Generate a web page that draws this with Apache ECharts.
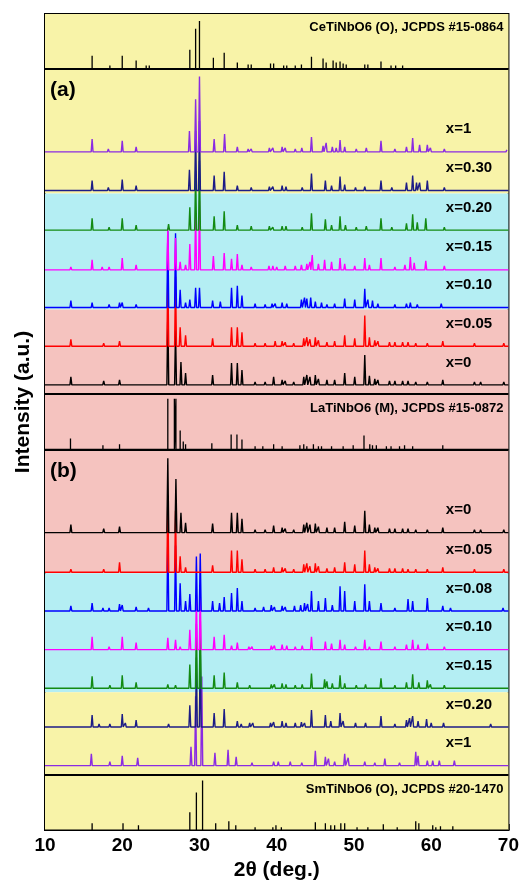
<!DOCTYPE html>
<html><head><meta charset="utf-8">
<script src="https://cdn.jsdelivr.net/npm/echarts@6/dist/echarts.min.js"></script>
<style>html,body{margin:0;padding:0;background:#fff;}#c{width:522px;height:886px;}</style>
</head><body><div id="c"></div>
<script>
// ---- data: [2theta, relative intensity] ----
const ceRef = [[16.1,13],[18.4,3],[20.0,13],[21.8,8],[23.1,3],[23.5,3],[26.1,1],[28.75,19],[29.5,40],[30.0,48],[31.8,11],[33.2,16],[34.9,6],[36.3,4],[36.7,4],[39.2,5],[39.6,5],[40.9,3],[41.3,3],[42.4,3],[43.2,4],[44.5,12],[46.0,10],[46.4,6],[47.3,8],[47.7,6],[48.2,7],[48.6,5],[49.0,4],[50.1,2],[51.4,4],[51.8,4],[53.5,7],[54.8,3],[55.4,3],[56.3,3]];
const laRef = [[13.3,11],[17.5,4],[19.65,5],[25.9,51],[26.75,51],[26.95,51],[27.5,19],[27.9,8],[28.2,5],[31.6,6],[34.1,15],[34.85,15],[35.5,10],[37.2,3],[38.2,3],[39.6,5],[40.7,3],[41.5,2],[43.0,4],[43.5,5],[43.9,3],[44.75,5],[45.4,3],[45.8,3],[47.1,3],[48.6,3],[49.9,4],[51.3,14],[52.05,5],[52.4,4],[52.9,4],[54.2,3],[54.8,3],[55.9,3],[56.55,4],[57.6,3],[58.9,2],[61.5,4]];
const smRef = [[16.1,7],[18.5,2],[20.1,7],[22.1,5],[28.75,18],[29.6,38],[30.4,50],[32.1,7],[33.8,9],[34.7,5],[36.5,2],[37.2,3],[39.5,3],[39.9,5],[40.6,3],[42.0,2],[43.3,2],[45.0,8],[46.3,7],[47.0,5],[47.5,5],[48.3,7],[48.8,7],[50.4,3],[51.8,3],[53.8,6],[55.6,3],[58.0,9],[58.4,7],[60.2,5],[60.6,3],[61.2,4],[62.8,4]];

// panel (a)
const a_x1   = [[16.1,13],[18.2,3],[20.0,11],[21.8,5],[23.3,2],[26.0,2],[28.7,21],[29.5,53],[30.0,76],[31.9,13],[33.25,18],[34.9,5],[36.3,3],[36.7,3],[39.05,4],[39.5,4],[40.7,5],[41.1,4],[42.4,3],[43.25,4],[44.5,15],[46.0,6],[46.4,9],[47.2,5],[47.7,4],[48.2,12],[48.8,5],[50.3,3],[51.6,4],[53.5,11],[55.3,3],[56.8,5],[57.6,14],[58.5,7],[59.5,7],[59.9,4],[61.7,3],[63.0,2],[65.6,2],[69.8,2]];
const a_x030 = [[13.4,1],[16.1,10],[18.2,3],[20.0,11],[21.8,5],[26.0,2],[28.7,21],[29.5,60],[30.0,70],[31.9,15],[33.2,19],[34.9,5],[36.7,3],[39.05,4],[39.5,4],[40.7,5],[41.2,4],[43.3,3],[44.5,17],[46.3,10],[47.1,5],[48.2,14],[48.8,6],[50.2,3],[51.4,4],[53.5,10],[54.9,3],[56.8,8],[57.6,15],[58.1,8],[58.5,8],[59.5,10],[61.7,3],[63.0,2]];
const a_x020 = [[13.4,1],[16.1,12],[18.3,3],[20.0,12],[21.8,5],[26.0,6],[28.75,23],[29.5,60],[30.0,70],[31.9,14],[33.2,19],[34.9,5],[36.7,4],[39.05,4],[39.5,3],[40.7,4],[41.2,4],[43.3,3],[44.5,17],[46.3,11],[47.1,5],[48.2,14],[48.9,5],[50.3,3],[51.6,4],[53.5,12],[54.9,3],[56.8,7],[57.6,16],[58.2,8],[59.3,12],[61.7,3]];
const a_x015 = [[13.35,3],[16.1,10],[17.4,3],[18.3,3],[20.0,12],[21.8,5],[25.9,42],[26.9,32],[27.5,8],[28.2,5],[28.75,26],[29.5,60],[30.0,70],[31.8,14],[33.2,17],[34.15,11],[34.9,16],[35.5,5],[36.7,3],[39.0,4],[39.5,4],[40.0,3],[41.1,4],[42.4,4],[43.2,5],[43.9,6],[44.3,8],[44.6,15],[45.4,6],[46.2,10],[47.1,8],[48.2,12],[48.8,6],[50.1,4],[51.4,12],[52.0,5],[53.5,12],[55.3,3],[56.6,5],[57.3,13],[57.8,7],[59.3,9],[61.7,4],[65.3,2]];
const a_x010 = [[13.35,7],[16.1,5],[17.6,2],[18.3,3],[19.65,5],[20.0,5],[21.8,3],[25.9,77],[26.9,75],[27.5,18],[28.2,5],[28.75,8],[29.5,20],[30.0,20],[31.7,7],[32.7,6],[34.15,20],[34.9,22],[35.5,12],[37.2,4],[38.5,3],[39.4,4],[39.8,4],[40.7,5],[41.3,4],[43.2,8],[43.6,10],[43.9,9],[44.4,10],[45.0,6],[45.8,5],[46.5,3],[47.5,4],[48.8,9],[50.1,8],[51.4,19],[51.8,8],[52.4,7],[53.1,4],[55.3,3],[56.8,4],[57.3,5],[58.2,3],[61.3,4],[65.3,2],[69.3,2]];
const a_x005 = [[13.35,7],[17.6,3],[19.65,5],[25.9,75],[26.9,70],[27.5,19],[28.2,11],[31.7,8],[34.15,19],[34.9,19],[35.5,14],[37.2,3],[38.5,3],[39.8,5],[40.7,5],[41.1,4],[42.2,3],[43.5,8],[43.9,9],[44.3,7],[45.0,9],[45.4,6],[46.5,4],[47.5,5],[48.8,11],[50.1,8],[51.4,31],[52.0,9],[52.7,6],[53.1,5],[54.6,4],[55.3,4],[56.3,4],[57.0,4],[58.0,3],[59.5,3],[61.5,5],[63.8,2],[65.6,3],[66.4,2],[69.4,3]];
const a_x0   = [[13.35,8],[17.6,4],[19.65,5],[25.9,75],[26.9,55],[27.6,23],[28.2,12],[31.7,10],[34.15,22],[34.9,22],[35.5,15],[37.2,3],[38.5,3],[39.6,8],[40.7,5],[41.1,4],[42.2,3],[43.5,8],[43.9,10],[44.3,8],[45.0,10],[45.4,6],[46.5,5],[47.5,5],[48.8,12],[50.1,8],[51.4,30],[52.0,9],[52.7,6],[53.1,5],[54.6,4],[55.3,4],[56.3,4],[57.0,4],[58.0,3],[59.5,3],[61.5,5],[63.8,2],[65.6,3],[66.4,3],[69.4,3]];

// panel (b)
const b_x0   = [[13.35,8],[17.6,4],[19.65,6],[21.5,2],[23.0,2],[25.9,75],[26.95,54],[27.6,20],[28.2,10],[31.7,9],[34.15,20],[34.9,20],[35.5,14],[37.2,3],[38.5,3],[39.6,7],[40.7,5],[41.1,4],[42.2,3],[43.5,8],[43.9,10],[44.3,8],[45.0,9],[45.4,6],[46.5,5],[47.5,5],[48.8,11],[50.1,7],[51.4,22],[52.0,8],[52.7,5],[53.1,5],[54.6,4],[55.3,4],[56.3,4],[57.0,4],[58.0,3],[59.5,3],[61.5,5],[63.8,2],[65.6,3],[66.4,3],[69.4,3]];
const b_x005 = [[13.35,3],[15.0,2],[17.6,3],[19.65,10],[25.9,78],[26.9,62],[27.5,16],[28.2,5],[31.7,7],[34.15,22],[34.9,22],[35.5,13],[37.2,3],[38.5,3],[39.6,5],[40.7,5],[41.1,4],[42.2,3],[43.5,8],[43.9,9],[44.3,6],[45.0,9],[45.4,6],[46.5,4],[47.5,5],[48.8,10],[50.1,8],[51.4,22],[52.0,8],[52.7,5],[53.1,4],[54.6,4],[55.3,4],[56.3,4],[57.0,3],[58.0,3],[59.5,3],[61.5,5],[63.8,2],[65.6,3],[67.0,2],[69.4,3]];
const b_x008 = [[13.35,5],[16.1,8],[17.5,3],[18.3,3],[19.65,7],[20.0,6],[21.8,4],[23.4,3],[25.9,76],[26.9,66],[27.5,28],[28.2,10],[28.75,17],[29.6,55],[30.1,58],[31.7,10],[32.6,8],[33.2,14],[34.15,18],[34.9,23],[35.5,10],[37.2,3],[38.3,4],[39.3,6],[39.7,4],[40.7,5],[41.1,4],[42.3,5],[43.1,6],[43.6,8],[44.0,7],[44.5,20],[45.4,10],[46.3,13],[47.2,6],[48.2,25],[48.8,20],[50.1,10],[51.4,27],[52.0,10],[53.5,8],[55.3,3],[57.0,12],[57.6,10],[59.5,13],[61.5,5],[62.5,3],[65.5,2],[69.3,3]];
const b_x010 = [[13.4,2],[16.1,13],[17.5,2],[18.3,3],[20.0,13],[21.8,7],[25.9,12],[26.9,10],[27.5,3],[28.75,20],[29.6,55],[30.1,58],[31.9,13],[33.2,15],[34.15,4],[34.9,7],[36.4,3],[36.8,3],[39.3,4],[39.7,4],[40.7,5],[41.3,4],[42.4,3],[43.3,4],[44.5,13],[46.3,8],[47.1,6],[48.2,10],[48.8,5],[50.2,3],[51.4,10],[52.0,3],[53.5,8],[55.3,3],[56.8,5],[57.6,10],[58.3,5],[59.5,6],[61.7,3],[63.0,2],[65.5,2]];
const b_x015 = [[13.4,2],[16.1,12],[17.5,2],[18.4,3],[20.0,13],[21.8,6],[24.2,2],[25.9,4],[26.9,3],[28.75,24],[29.6,65],[30.1,75],[31.9,13],[33.2,16],[34.9,6],[36.5,3],[39.3,4],[39.7,4],[40.7,5],[41.2,4],[42.4,3],[43.3,4],[44.5,15],[46.2,9],[46.5,7],[47.2,5],[48.2,13],[48.8,5],[50.3,3],[51.5,4],[53.5,10],[55.3,3],[56.8,6],[57.6,14],[58.4,6],[59.5,8],[59.9,4],[61.7,3],[62.8,2],[65.3,2]];
const b_x020 = [[13.4,2],[14.8,2],[16.1,12],[17.0,3],[18.4,3],[20.0,13],[20.4,4],[21.8,7],[22.5,2],[24.0,2],[26.0,3],[28.75,22],[29.6,70],[30.1,80],[31.9,14],[33.2,18],[34.9,6],[35.4,3],[36.5,4],[36.9,4],[39.2,4],[39.6,5],[40.7,6],[41.2,4],[42.4,4],[43.2,5],[43.6,4],[44.5,17],[46.3,12],[47.0,6],[48.2,14],[48.6,6],[50.2,4],[51.5,4],[53.5,11],[55.3,3],[56.8,7],[57.2,9],[57.6,11],[58.3,6],[59.4,8],[60.0,4],[61.6,4],[62.6,2],[65.3,2],[67.7,3]];
const b_x1   = [[13.9,2],[16.0,12],[18.4,4],[20.0,10],[22.0,8],[26.0,2],[28.9,19],[29.5,70],[30.3,90],[32.0,13],[33.7,16],[34.75,9],[36.8,3],[39.6,4],[40.2,4],[41.75,4],[43.25,3],[45.0,15],[46.3,9],[46.7,7],[47.5,4],[48.8,12],[49.25,8],[51.4,4],[52.7,3],[54.0,7],[55.9,3],[58.0,14],[58.3,10],[59.5,5],[60.2,5],[61.05,5],[63.0,5],[64.5,2],[67.3,2],[69.5,2]];

const xTicks = [10,20,30,40,50,60,70];
const refTitles = ['CeTiNbO6 (O), JCPDS #15-0864','LaTiNbO6 (M), JCPDS #15-0872','SmTiNbO6 (O), JCPDS #20-1470'];

// ---- layout (offsets in axis units) ----
const YMAX = 823;
const C = {purple:'#8a2be2', navy:'#1c1c86', green:'#138a13', magenta:'#ff00ff', blue:'#0000ff', red:'#ff0000', black:'#000000'};
const patterns = [
  // panel (b), bottom to top
  {d:b_x1,   off:65,  c:C.purple,  t:'x=1'},
  {d:b_x020, off:104, c:C.navy,    t:'x=0.20'},
  {d:b_x015, off:143, c:C.green,   t:'x=0.15'},
  {d:b_x010, off:182, c:C.magenta, t:'x=0.10'},
  {d:b_x008, off:221, c:C.blue,    t:'x=0.08'},
  {d:b_x005, off:260, c:C.red,     t:'x=0.05'},
  {d:b_x0,   off:300, c:C.black,   t:'x=0'},
  // panel (a), bottom to top
  {d:a_x0,   off:449, c:C.black,   t:'x=0'},
  {d:a_x005, off:488, c:C.red,     t:'x=0.05'},
  {d:a_x010, off:527, c:C.blue,    t:'x=0.10'},
  {d:a_x015, off:565, c:C.magenta, t:'x=0.15'},
  {d:a_x020, off:605, c:C.green,   t:'x=0.20'},
  {d:a_x030, off:645, c:C.navy,    t:'x=0.30'},
  {d:a_x1,   off:684, c:C.purple,  t:'x=1'}
];
const refs = [{d:ceRef, off:768, t:refTitles[0]}, {d:laRef, off:384, t:refTitles[1]}, {d:smRef, off:0, t:refTitles[2]}];
const YEL='#f8f3a8', CYA='#b4eef3', PNK='#f5c3bf';
const bands = [[823,768,YEL],[768,642,YEL],[642,525,CYA],[525,440,PNK],[440,384,PNK],[384,259,PNK],[259,139,CYA],[139,56,YEL],[56,0,YEL]];
const separators = [768,440,384,56];

const W = 0.12;
function profile(peaks, base){
  const out=[[10,base]];
  peaks.forEach(p=>{out.push([p[0]-W,base],[p[0],base+p[1]],[p[0]+W,base]);});
  out.push([70,base]); return out;
}
function sticks(peaks, base){
  const out=[[10,base]];
  peaks.forEach(p=>{out.push([p[0],base],[p[0],base+p[1]],[p[0],base]);});
  out.push([70,base]); return out;
}

const FONT = '"Liberation Sans", Arial, sans-serif';
const series = [];
series.push({
  type:'line', data:[], silent:true, z:1,
  markArea:{silent:true, data: bands.map(b=>[{yAxis:b[0], itemStyle:{color:b[2]}},{yAxis:b[1]}])},
  markLine:{silent:true, symbol:['none','none'], label:{show:false}, lineStyle:{color:'#000', width:2, type:'solid'},
    data: separators.map(v=>({yAxis:v}))}
});
refs.forEach(r=>series.push({type:'line', data:sticks(r.d,r.off), showSymbol:false, silent:true, z:3,
  lineStyle:{color:'#000', width:1.3}}));
patterns.forEach(p=>series.push({type:'line', data:profile(p.d,p.off), showSymbol:false, silent:true, z:3,
  lineStyle:{color:p.c, width:1.4}}));

const chart = echarts.init(document.getElementById('c'), null, {renderer:'canvas'});
const option = {
  animation:false,
  backgroundColor:'#fff',
  grid:{left:45, right:11, top:14, bottom:49, show:true, borderColor:'#000', borderWidth:2, backgroundColor:'transparent'},
  xAxis:{type:'value', min:10, max:70, interval:10,
    axisLine:{show:true, lineStyle:{color:'#000', width:2}},
    axisTick:{show:true, inside:true, length:6, lineStyle:{color:'#000', width:1.5}},
    minorTick:{show:true, splitNumber:2, length:3, lineStyle:{color:'#000', width:1.2}},
    splitLine:{show:false},
    axisLabel:{color:'#000', fontFamily:FONT, fontWeight:'bold', fontSize:19, margin:6,
      formatter:v=>xTicks.indexOf(v)>=0?String(v):''},
    name:'2θ (deg.)', nameLocation:'middle', nameGap:26,
    nameTextStyle:{color:'#000', fontFamily:FONT, fontWeight:'bold', fontSize:21}},
  yAxis:{type:'value', min:0, max:YMAX, show:true,
    axisLine:{show:true, lineStyle:{color:'#000', width:2}}, axisTick:{show:false}, axisLabel:{show:false}, splitLine:{show:false}},
  series: series
};
chart.setOption(option);

function px(x,y){return chart.convertToPixel({gridIndex:0},[x,y]);}
const g = [];
const lblX = px(61.9,0)[0];
patterns.forEach(p=>{
  g.push({type:'text', left:lblX, top:px(10,p.off)[1]-30, z:10,
    style:{text:p.t, font:'bold 15px '+FONT, fill:'#000'}});
});
const rightX = px(70,0)[0]-5;
refs.forEach(r=>{
  g.push({type:'text', right:522-rightX, top:px(10,r.off+48)[1], z:10,
    style:{text:r.t, font:'bold 13px '+FONT, fill:'#000'}});
});
g.push({type:'text', left:50, top:px(10,757)[1], z:10, style:{text:'(a)', font:'bold 21px '+FONT, fill:'#000'}});
g.push({type:'text', left:50, top:px(10,373)[1], z:10, style:{text:'(b)', font:'bold 21px '+FONT, fill:'#000'}});
g.push({type:'text', x:23, y:402, rotation:Math.PI/2, z:10,
  style:{text:'Intensity (a.u.)', font:'bold 21px '+FONT, fill:'#000', textAlign:'center', textVerticalAlign:'middle'}});
chart.setOption({graphic:g});
</script>
</body></html>
